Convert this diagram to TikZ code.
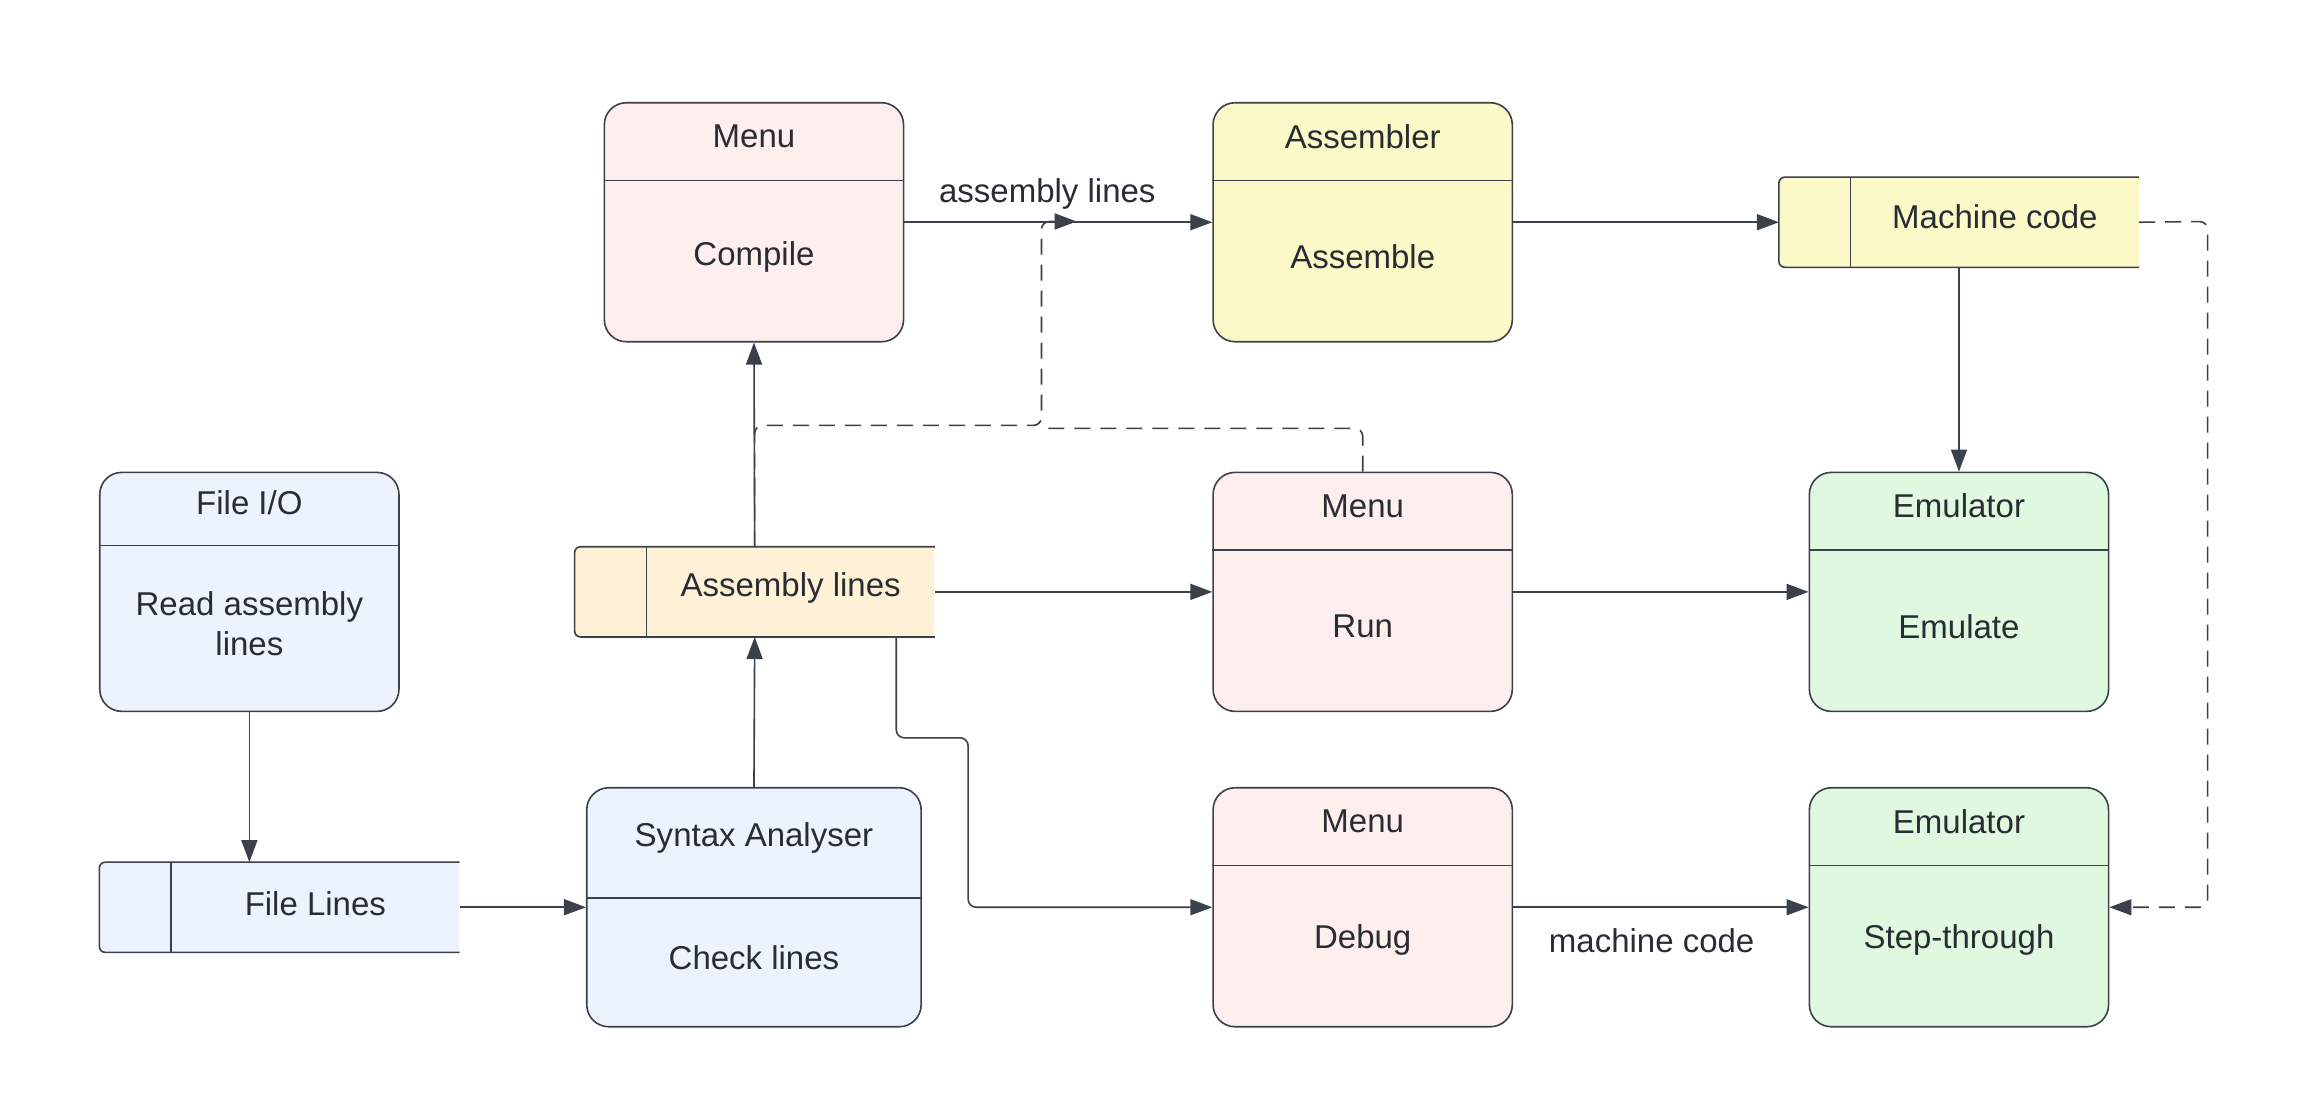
\documentclass[tikz,border=0pt]{standalone}
\usepackage{fontspec}
\setmainfont{Liberation Sans}
\usetikzlibrary{arrows.meta}
\definecolor{linec}{HTML}{3A414A}
\definecolor{textc}{HTML}{282C33}
\definecolor{pinkf}{HTML}{FFEEEE}
\definecolor{yellowf}{HTML}{FBF9C7}
\definecolor{orangef}{HTML}{FFF1D6}
\definecolor{bluef}{HTML}{EDF3FE}
\definecolor{greenf}{HTML}{E0F8E0}
\tikzset{procbox/.style={draw=linec, line width=0.8pt, rounded corners=11pt,
                         minimum width=149.6pt, minimum height=119.5pt, inner sep=0pt},
         storebox/.style={minimum width=179.7pt, minimum height=44.7pt, inner sep=0pt},
         storeline/.style={draw=linec, line width=0.8pt, rounded corners=3pt},
         lbl/.style={font=\fontsize{16.5}{20}\selectfont, text=textc, align=center},
         arr/.style={draw=linec, line width=0.8pt, -{Triangle[length=11pt,width=8pt]}},
         dasharr/.style={arr, dash pattern=on 8pt off 5pt, rounded corners=4pt}}

\begin{document}
\begin{tikzpicture}[x=0.7334pt, y=-0.7334pt]
    \useasboundingbox (0,0) rectangle (1568,755);

    % top row
    \node[procbox, fill=pinkf] (compile) at (514,151.5) {};
    \draw[linec, line width=0.8pt] (compile.west |- 0,123) -- (compile.east |- 0,123);
    \node[lbl] (compileh) at (514,93) {Menu};
    \node[lbl] (compileb) at (514,175) {Compile};

    \node[procbox, fill=yellowf] (assembler) at (929,151.5) {};
    \draw[linec, line width=0.8pt] (assembler.west |- 0,123) -- (assembler.east |- 0,123);
    \node[lbl] (assemblerh) at (929,93) {Assembler};
    \node[lbl] (assemblerb) at (929,175) {Assemble};

    \node[storebox, fill=yellowf] (mcode) at (1335.5,151.5) {};
    \draw[storeline] (mcode.north east) -- (mcode.north west) -- (mcode.south west) -- (mcode.south east);
    \draw[linec, line width=0.8pt] ([xshift=35.9pt]mcode.north west) -- ([xshift=35.9pt]mcode.south west);
    \node[lbl] (mcodet) at (1360,148) {Machine code};

    % middle row
    \node[procbox, fill=bluef] (fileio) at (170,403.5) {};
    \draw[linec, line width=0.8pt] (fileio.west |- 0,372) -- (fileio.east |- 0,372);
    \node[lbl] (fileioh) at (170,343) {File I/O};
    \node[lbl] (fileiob) at (170,425) {Read assembly\\lines};

    \node[storebox, fill=orangef] (aslines) at (514.5,403.5) {};
    \draw[storeline] (aslines.north east) -- (aslines.north west) -- (aslines.south west) -- (aslines.south east);
    \draw[linec, line width=0.8pt] ([xshift=35.9pt]aslines.north west) -- ([xshift=35.9pt]aslines.south west);
    \node[lbl] (aslinest) at (539,401) {Assembly lines};

    \node[procbox, fill=pinkf] (run) at (929,403.5) {};
    \draw[linec, line width=0.8pt] (run.west |- 0,375) -- (run.east |- 0,375);
    \node[lbl] (runh) at (929,345) {Menu};
    \node[lbl] (runb) at (929,427) {Run};

    \node[procbox, fill=greenf] (emulate) at (1335.5,403.5) {};
    \draw[linec, line width=0.8pt] (emulate.west |- 0,375) -- (emulate.east |- 0,375);
    \node[lbl] (emulateh) at (1335.5,345) {Emulator};
    \node[lbl] (emulateb) at (1335.5,427) {Emulate};

    % bottom row
    \node[storebox, fill=bluef] (filelines) at (190.5,618.5) {};
    \draw[storeline] (filelines.north east) -- (filelines.north west) -- (filelines.south west) -- (filelines.south east);
    \draw[linec, line width=0.8pt] ([xshift=35.9pt]filelines.north west) -- ([xshift=35.9pt]filelines.south west);
    \node[lbl] (filelinest) at (215,616) {File Lines};

    \node[procbox, fill=bluef, minimum width=167.2pt] (syntax) at (514,618.5) {};
    \draw[linec, line width=0.8pt] (syntax.west |- 0,612) -- (syntax.east |- 0,612);
    \node[lbl] (syntaxh) at (514,571) {Syntax Analyser};
    \node[lbl] (syntaxb) at (514,653) {Check lines};

    \node[procbox, fill=pinkf] (debug) at (929,618.5) {};
    \draw[linec, line width=0.8pt] (debug.west |- 0,590) -- (debug.east |- 0,590);
    \node[lbl] (debugh) at (929,560) {Menu};
    \node[lbl] (debugb) at (929,641) {Debug};

    \node[procbox, fill=greenf] (step) at (1335.5,618.5) {};
    \draw[linec, line width=0.8pt] (step.west |- 0,590) -- (step.east |- 0,590);
    \node[lbl] (steph) at (1335.5,560) {Emulator};
    \node[lbl] (stepb) at (1335.5,641) {Step-through};

    % dashed feedback
    \coordinate (dashjoin) at (710,290);
    \coordinate (dashjoinr) at (710,292);
    \coordinate (dashtip) at (734,151);
    \coordinate (mcturn) at (1505,151);
    \draw[dasharr] (aslines.north) -- (aslines.north |- dashjoin) -- (dashjoin) |- (dashtip);
    \draw[dasharr, -] (run.north) -- (run.north |- dashjoinr) -- (dashjoinr);
    \draw[dasharr] (mcode.east) -- (mcturn) |- (step.east);

    % connectors
    \draw[arr] (compile.east |- assembler.west) -- (assembler.west);
    \node[lbl] (aslinesl) at (714,132) {assembly lines};
    \draw[arr] (assembler.east) -- (mcode.west);
    \draw[arr] (mcode.south) -- (emulate.north);
    \draw[arr] (aslines.north) -- (compile.south);
    \draw[arr] (aslines.east) -- (run.west);
    \draw[arr] (run.east) -- (emulate.west);
    \draw[arr] (fileio.south) -- (fileio.south |- filelines.north);
    \draw[arr] (filelines.east) -- (filelines.east -| syntax.west);
    \draw[arr] (syntax.north) -- (aslines.south);
    \coordinate (dbga) at (611,503);
    \coordinate (dbgb) at (660,503);
    \draw[arr, rounded corners=4pt] (dbga |- aslines.south) -- (dbga) -- (dbgb) |- (debug.west);
    \draw[arr] (debug.east |- step.west) -- (step.west);
    \node[lbl] (mcodel) at (1126,641) {machine code};
\end{tikzpicture}
\end{document}
